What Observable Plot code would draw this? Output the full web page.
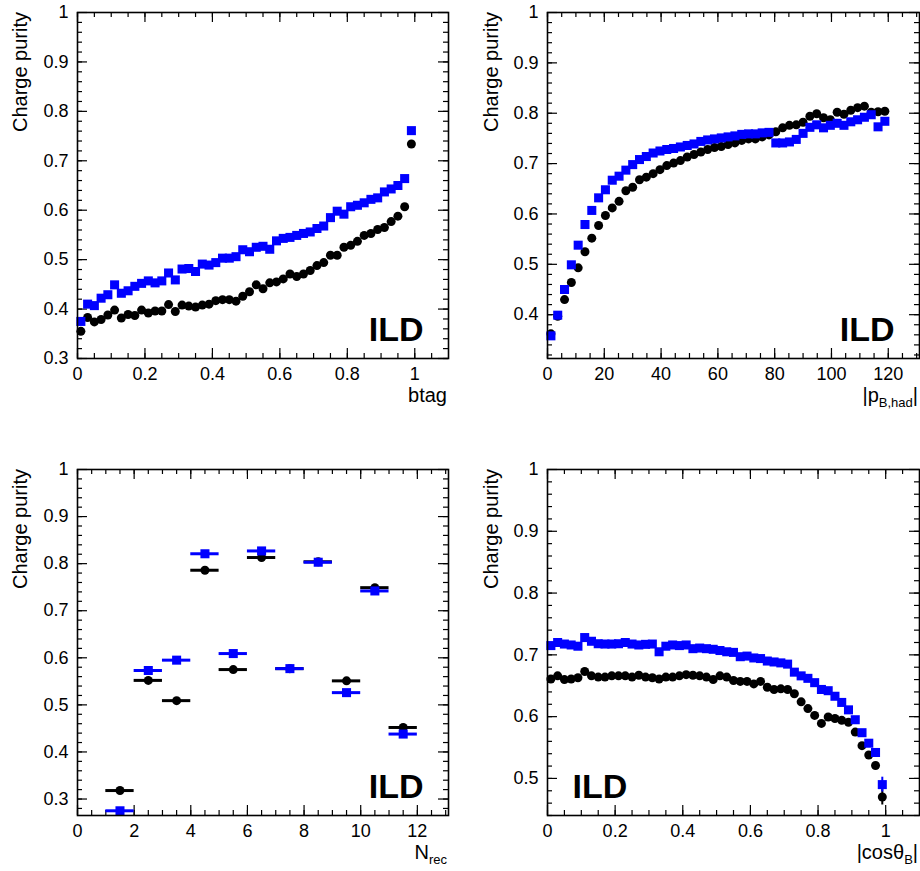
<!DOCTYPE html>
<html><head><meta charset="utf-8">
<script src="https://cdn.jsdelivr.net/npm/d3@7"></script>
<script src="https://cdn.jsdelivr.net/npm/@observablehq/plot@0.6"></script>
<style>
html,body{margin:0;padding:0;background:#fff;overflow:hidden;}
#wrap{position:relative;width:920px;height:871px;overflow:hidden;}
#wrap svg{position:absolute;}
</style></head><body><div id="wrap"></div>
<script>
// ---------- Panel 1: btag ----------
const btagX = [0.01,0.03,0.05,0.07,0.09,0.11,0.13,0.15,0.17,0.19,0.21,0.23,0.25,0.27,0.29,0.31,0.33,0.35,0.37,0.39,0.41,0.43,0.45,0.47,0.49,0.51,0.53,0.55,0.57,0.59,0.61,0.63,0.65,0.67,0.69,0.71,0.73,0.75,0.77,0.79,0.81,0.83,0.85,0.87,0.89,0.91,0.93,0.95,0.97,0.99];
const btagBlue = [0.375,0.410,0.407,0.422,0.429,0.449,0.432,0.437,0.446,0.452,0.457,0.453,0.457,0.473,0.459,0.481,0.482,0.476,0.491,0.489,0.494,0.503,0.503,0.506,0.520,0.516,0.525,0.527,0.521,0.538,0.543,0.545,0.549,0.553,0.556,0.563,0.568,0.585,0.598,0.592,0.607,0.610,0.615,0.622,0.625,0.637,0.643,0.650,0.664,0.761];
const btagBlack = [0.355,0.383,0.374,0.379,0.388,0.398,0.382,0.389,0.387,0.398,0.392,0.396,0.396,0.409,0.395,0.408,0.406,0.404,0.408,0.410,0.417,0.419,0.419,0.416,0.426,0.435,0.449,0.441,0.453,0.455,0.461,0.471,0.466,0.471,0.478,0.488,0.494,0.509,0.509,0.525,0.529,0.537,0.549,0.553,0.561,0.565,0.577,0.588,0.607,0.734];
const btagTicks = [0,0.2,0.4,0.6,0.8,1];
const purityTicksA = [0.3,0.4,0.5,0.6,0.7,0.8,0.9,1];

// ---------- Panel 2: |p_B,had| ----------
const pX = [1.2,3.6,6.0,8.4,10.8,13.2,15.6,18.0,20.4,22.8,25.2,27.6,30.0,32.4,34.8,37.2,39.6,42.0,44.4,46.8,49.2,51.6,54.0,56.4,58.8,61.2,63.6,66.0,68.4,70.8,73.2,75.6,78.0,80.4,82.8,85.2,87.6,90.0,92.4,94.8,97.2,99.6,102.0,104.4,106.8,109.2,111.6,114.0,116.4,118.8];
const pBlue = [0.358,0.399,0.450,0.499,0.538,0.579,0.607,0.632,0.648,0.667,0.675,0.687,0.698,0.708,0.714,0.721,0.725,0.728,0.730,0.733,0.736,0.739,0.744,0.747,0.749,0.751,0.753,0.755,0.758,0.759,0.759,0.761,0.762,0.741,0.741,0.743,0.748,0.760,0.772,0.777,0.771,0.776,0.780,0.776,0.783,0.787,0.792,0.797,0.773,0.784];
const pBlack = [0.362,0.397,0.430,0.464,0.493,0.525,0.552,0.577,0.597,0.612,0.625,0.646,0.653,0.668,0.673,0.680,0.688,0.696,0.701,0.706,0.713,0.718,0.723,0.728,0.732,0.734,0.738,0.741,0.746,0.749,0.749,0.753,0.757,0.763,0.771,0.776,0.777,0.782,0.794,0.799,0.791,0.787,0.802,0.798,0.806,0.811,0.814,0.802,0.803,0.804];
const pTicks = [0,20,40,60,80,100,120];
const purityTicksB = [0.4,0.5,0.6,0.7,0.8,0.9,1];

// ---------- Panel 3: N_rec ----------
const nrecX = [1.5,2.5,3.5,4.5,5.5,6.5,7.5,8.5,9.5,10.5,11.5];
const nrecBinHalfWidth = 0.5;
const nrecBlue = [0.275,0.573,0.595,0.821,0.609,0.827,0.577,0.803,0.526,0.742,0.438];
const nrecBlack = [0.318,0.552,0.509,0.786,0.575,0.813,0.577,0.804,0.551,0.749,0.452];
const nrecTicks = [0,2,4,6,8,10,12];

// ---------- Panel 4: |cos theta_B| ----------
const cosX = btagX;
const cosBlue = [0.715,0.720,0.7175,0.716,0.714,0.728,0.722,0.718,0.7175,0.7175,0.718,0.720,0.7175,0.716,0.717,0.7175,0.705,0.714,0.716,0.715,0.716,0.710,0.711,0.710,0.709,0.707,0.705,0.704,0.697,0.698,0.695,0.694,0.690,0.6885,0.687,0.685,0.672,0.666,0.662,0.655,0.644,0.642,0.633,0.623,0.611,0.595,0.574,0.557,0.542,0.490];
const cosBlack = [0.661,0.666,0.660,0.661,0.663,0.673,0.666,0.664,0.664,0.666,0.666,0.666,0.664,0.667,0.664,0.663,0.661,0.664,0.664,0.666,0.668,0.667,0.666,0.664,0.660,0.666,0.664,0.6585,0.657,0.657,0.653,0.657,0.6475,0.644,0.645,0.644,0.637,0.624,0.613,0.602,0.589,0.5995,0.597,0.594,0.591,0.575,0.553,0.538,0.521,0.470];
const cosErrX = [0.99];
const cosBlueErr = [0.012];
const cosBlackErr = [0.013];
const cosTicks = [0,0.2,0.4,0.6,0.8,1];
const purityTicksD = [0.5,0.6,0.7,0.8,0.9,1];

const BLUE = "#0000ff", BLACK = "#000000";
const FONT = "'Liberation Sans', Arial, Helvetica, sans-serif";
const fmt = d => String(+d.toFixed(2));
const zipXY = (xs, vs) => xs.map((x, i) => ({x, v: vs[i]}));
const minorRange = (lo, hi, step) => d3.range(lo, hi - 1e-9, step).map(d => +d.toFixed(4));

function panel(cfg) {
  const W = 460, H = 414, mt = 12, mb = 56;
  const ml = cfg.right ? 87 : 77, mr = cfg.right ? 1 : 12;
  const fw = W - ml - mr, fh = H - mt - mb;
  const xMinor = minorRange(cfg.xDomain[0], cfg.xDomain[1], cfg.xMinorStep);
  const yMinor = minorRange(Math.ceil(cfg.yDomain[0] / cfg.yMinorStep) * cfg.yMinorStep, cfg.yDomain[1], cfg.yMinorStep);
  const tk = {stroke: BLACK, strokeWidth: 1.2};
  const marks = [
    Plot.tickX(cfg.xTicks, {x: d => d, insetTop: fh - 10, ...tk}),
    Plot.tickX(cfg.xTicks, {x: d => d, insetBottom: fh - 10, ...tk}),
    Plot.tickX(xMinor, {x: d => d, insetTop: fh - 5, ...tk}),
    Plot.tickX(xMinor, {x: d => d, insetBottom: fh - 5, ...tk}),
    Plot.tickY(cfg.yTicks, {y: d => d, insetRight: fw - 10, ...tk}),
    Plot.tickY(cfg.yTicks, {y: d => d, insetLeft: fw - 10, ...tk}),
    Plot.tickY(yMinor, {y: d => d, insetRight: fw - 5, ...tk}),
    Plot.tickY(yMinor, {y: d => d, insetLeft: fw - 5, ...tk}),
    Plot.axisX({ticks: cfg.xTicks, tickSize: 0, tickPadding: 9, tickFormat: fmt, label: null, fontSize: 18}),
    Plot.axisY({ticks: cfg.yTicks, tickSize: 0, tickPadding: 9, tickFormat: fmt, label: null, fontSize: 18}),
    ...cfg.dataMarks,
    Plot.text(["ILD"], {text: d => d, frameAnchor: cfg.ildLeft ? "bottom-left" : "bottom-right",
      dx: cfg.ildLeft ? 25 : -25, dy: -18, textAnchor: cfg.ildLeft ? "start" : "end", lineAnchor: "bottom",
      fontSize: 34, fontWeight: "bold", fill: BLACK}),
    Plot.frame({stroke: BLACK, strokeWidth: 1.6})
  ];
  const svg = Plot.plot({
    width: W, height: H, marginTop: mt, marginBottom: mb, marginLeft: ml, marginRight: mr,
    x: {domain: cfg.xDomain}, y: {domain: cfg.yDomain},
    style: {fontFamily: FONT, fontSize: "18px", background: "transparent", color: BLACK, overflow: "visible"},
    marks
  });
  svg.style.left = cfg.left + "px";
  svg.style.top = cfg.top + "px";
  const s = d3.select(svg);
  s.append("text")
    .attr("transform", `translate(${cfg.right ? 38 : 27},${mt}) rotate(-90)`)
    .attr("text-anchor", "end").attr("font-size", 20).attr("fill", BLACK)
    .text("Charge purity");
  const t = s.append("text").attr("x", W - mr - 1).attr("y", H - mb + 44)
    .attr("text-anchor", "end").attr("font-size", 20).attr("fill", BLACK);
  let shift = 0;
  for (const part of cfg.xTitle) {
    const target = part.sub ? 5 : 0;
    t.append("tspan").attr("dy", target - shift).attr("font-size", part.sub ? 13 : 20).text(part.t);
    shift = target;
  }
  document.getElementById("wrap").appendChild(svg);
}

const sq = {symbol: "square", r: 5.1, fill: BLUE};
const ci = {r: 4.5, fill: BLACK};

panel({
  left: 0, top: 0, right: false, ildLeft: false,
  xDomain: [0, 1.1], yDomain: [0.3, 1], xTicks: btagTicks, yTicks: purityTicksA, xMinorStep: 0.05, yMinorStep: 0.02,
  xTitle: [{t: "btag"}],
  dataMarks: [
    Plot.dot(zipXY(btagX, btagBlack), {x: "x", y: "v", ...ci}),
    Plot.dot(zipXY(btagX, btagBlue), {x: "x", y: "v", ...sq})
  ]
});

panel({
  left: 460, top: 0, right: true, ildLeft: false,
  xDomain: [0, 131], yDomain: [0.313, 1], xTicks: pTicks, yTicks: purityTicksB, xMinorStep: 5, yMinorStep: 0.02,
  xTitle: [{t: "|p"}, {t: "B,had", sub: true}, {t: "|"}],
  dataMarks: [
    Plot.dot(zipXY(pX, pBlack), {x: "x", y: "v", ...ci}),
    Plot.dot(zipXY(pX, pBlue), {x: "x", y: "v", ...sq})
  ]
});

panel({
  left: 0, top: 457, right: false, ildLeft: false,
  xDomain: [0, 13.1], yDomain: [0.265, 1], xTicks: nrecTicks, yTicks: purityTicksA, xMinorStep: 0.5, yMinorStep: 0.02,
  xTitle: [{t: "N"}, {t: "rec", sub: true}],
  dataMarks: [
    Plot.ruleY(zipXY(nrecX, nrecBlack), {x1: d => d.x - nrecBinHalfWidth, x2: d => d.x + nrecBinHalfWidth, y: "v", stroke: BLACK, strokeWidth: 3}),
    Plot.dot(zipXY(nrecX, nrecBlack), {x: "x", y: "v", ...ci}),
    Plot.ruleY(zipXY(nrecX, nrecBlue), {x1: d => d.x - nrecBinHalfWidth, x2: d => d.x + nrecBinHalfWidth, y: "v", stroke: BLUE, strokeWidth: 3}),
    Plot.dot(zipXY(nrecX, nrecBlue), {x: "x", y: "v", ...sq})
  ]
});

const errBlack = cosErrX.map((x, i) => ({x, v: cosBlack[cosX.indexOf(x)], e: cosBlackErr[i]}));
const errBlue = cosErrX.map((x, i) => ({x, v: cosBlue[cosX.indexOf(x)], e: cosBlueErr[i]}));
panel({
  left: 460, top: 457, right: true, ildLeft: true,
  xDomain: [0, 1.1], yDomain: [0.44, 1], xTicks: cosTicks, yTicks: purityTicksD, xMinorStep: 0.05, yMinorStep: 0.02,
  xTitle: [{t: "|cosθ"}, {t: "B", sub: true}, {t: "|"}],
  dataMarks: [
    Plot.ruleX(errBlack, {x: "x", y1: d => d.v - d.e, y2: d => d.v + d.e, stroke: BLACK, strokeWidth: 2}),
    Plot.dot(zipXY(cosX, cosBlack), {x: "x", y: "v", ...ci}),
    Plot.ruleX(errBlue, {x: "x", y1: d => d.v - d.e, y2: d => d.v + d.e, stroke: BLUE, strokeWidth: 2}),
    Plot.dot(zipXY(cosX, cosBlue), {x: "x", y: "v", ...sq})
  ]
});
</script></body></html>
